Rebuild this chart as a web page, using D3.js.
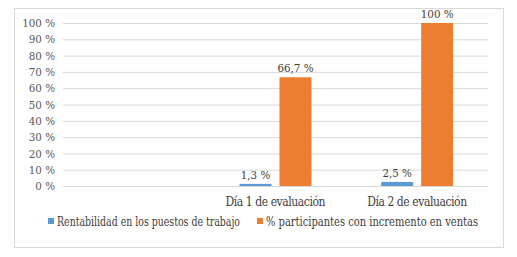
<!DOCTYPE html>
<html>
<head>
<meta charset="utf-8">
<script src="https://cdn.jsdelivr.net/npm/d3@7"></script>
<style>
  body { margin: 0; background: #fff; }
</style>
</head>
<body>
<script>
// Data
const categories = ['', 'Día 1 de evaluación', 'Día 2 de evaluación'];
const seriesNames = ['Rentabilidad en los puestos de trabajo', '% participantes con incremento en ventas'];
const rentabilidad = [null, 1.3, 2.5];
const participantes = [null, 66.7, 100];
const labelsRent = ['', '1,3 %', '2,5 %'];
const labelsPart = ['', '66,7 %', '100 %'];
const yTicks = [0, 10, 20, 30, 40, 50, 60, 70, 80, 90, 100];
const colors = ['#5b9bd5', '#ed7d31'];

const width = 517;
const height = 257;
const plot = {left: 63, right: 488, top: 23, bottom: 186};
const serif = "'DejaVu Serif Condensed', 'DejaVu Serif', serif";

const svg = d3.select('body').append('svg')
  .attr('width', width)
  .attr('height', height)
  .style('font-family', serif);

// outer frame
svg.append('rect')
  .attr('x', 14.5).attr('y', 8.5)
  .attr('width', 489).attr('height', 239)
  .attr('fill', '#fff')
  .attr('stroke', '#d9d9d9');

const y = d3.scaleLinear().domain([0, 100]).range([plot.bottom, plot.top]);
const x = d3.scaleBand().domain(categories.map((c, i) => i)).range([plot.left, plot.right]);
const xs = d3.scaleBand().domain([0, 1]).range([0, 72]).paddingInner(0.2);

// gridlines + y labels
const yAxis = d3.axisLeft(y)
  .tickValues(yTicks)
  .tickSize(-(plot.right - plot.left))
  .tickPadding(8)
  .tickFormat(d => d + ' %');

const yAxisG = svg.append('g')
  .attr('transform', `translate(${plot.left},0)`)
  .call(yAxis)
  .attr('font-family', null);
yAxisG.select('.domain').remove();
yAxisG.selectAll('line').attr('stroke', '#d9d9d9');
yAxisG.selectAll('text')
  .attr('fill', '#595959')
  .attr('font-size', '11.5px');

// bars
const series = [rentabilidad, participantes];
const labels = [labelsRent, labelsPart];
series.forEach((vals, s) => {
  const g = svg.append('g');
  vals.forEach((v, i) => {
    if (v === null) return;
    const bx = x(i) + (x.bandwidth() - 72) / 2 + xs(s);
    g.append('rect')
      .attr('x', bx)
      .attr('y', y(v))
      .attr('width', xs.bandwidth())
      .attr('height', y(0) - y(v))
      .attr('fill', colors[s]);
    g.append('text')
      .attr('x', bx + xs.bandwidth() / 2)
      .attr('y', y(v) - 5)
      .attr('text-anchor', 'middle')
      .attr('fill', '#404040')
      .attr('font-size', '11.5px')
      .text(labels[s][i]);
  });
});

// x axis
const xAxis = d3.axisBottom(x)
  .tickSize(0)
  .tickPadding(11)
  .tickFormat(i => categories[i]);
const xAxisG = svg.append('g')
  .attr('transform', `translate(0,${plot.bottom})`)
  .call(xAxis)
  .attr('font-family', null);
xAxisG.select('.domain').attr('stroke', '#d9d9d9');
xAxisG.selectAll('text')
  .attr('fill', '#404040')
  .attr('font-size', '12px')
  .attr('textLength', d => categories[d] ? 100 : null)
  .attr('lengthAdjust', 'spacing');

// legend
const legend = svg.append('g').attr('transform', 'translate(48,221)');
const legendX = [0, 209];
const legendLen = [183, 212];
seriesNames.forEach((name, s) => {
  const lg = legend.append('g').attr('transform', `translate(${legendX[s]},0)`);
  lg.append('rect')
    .attr('x', 0).attr('y', -3)
    .attr('width', 6).attr('height', 6)
    .attr('fill', colors[s]);
  lg.append('text')
    .attr('x', 9)
    .attr('y', 4.5)
    .attr('fill', '#404040')
    .attr('font-size', '12px')
    .attr('textLength', legendLen[s])
    .attr('lengthAdjust', 'spacingAndGlyphs')
    .text(name);
});
</script>
</body>
</html>
